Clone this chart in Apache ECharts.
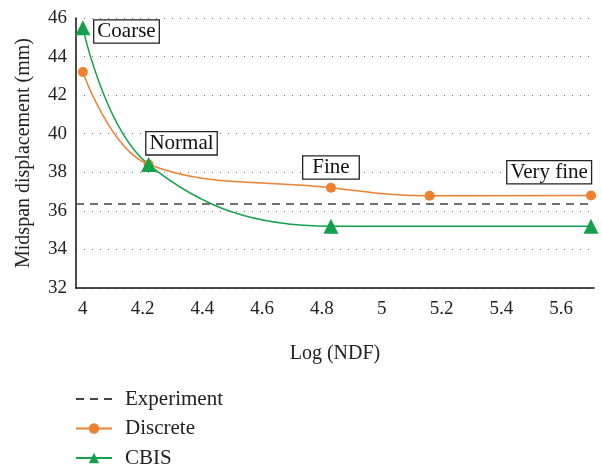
<!DOCTYPE html>
<html><head><meta charset="utf-8">
<script src="https://cdn.jsdelivr.net/npm/echarts@6/dist/echarts.min.js"></script>
<style>html,body{margin:0;padding:0;background:#fff}#c{width:602px;height:469px}</style>
</head><body><div id="c"></div>
<script>
const xTicks = [4, 4.2, 4.4, 4.6, 4.8, 5, 5.2, 5.4, 5.6];
const yTicks = [32, 34, 36, 38, 40, 42, 44, 46];
const discreteX = [4, 4.22, 4.83, 5.16, 5.7];
const discreteY = [43.2, 38.4, 37.2, 36.78, 36.8];
const cbisX = [4, 4.22, 4.83, 5.7];
const cbisY = [45.5, 38.4, 35.2, 35.2];
const experimentX = [3.977, 5.71];
const experimentY = [36.35, 36.35];
const meshLabels = ['Coarse', 'Normal', 'Fine', 'Very fine'];
const meshLabelX = [4.146, 4.33, 4.83, 5.56];
const meshLabelY = [45.3, 39.5, 38.25, 38.0];

const font = 'Liberation Serif';
const zip = (a, b) => a.map((v, i) => [v, b[i]]);
const labelItems = meshLabels.map((n, i) => ({
  value: [meshLabelX[i], meshLabelY[i]],
  label: { padding: n === 'Fine' ? [1, 9, 0, 9] : [1, 3, 0, 3] }
}));
const chart = echarts.init(document.getElementById('c'));
chart.setOption({
  animation: false,
  textStyle: { fontFamily: font },
  grid: { left: 76, right: 8, top: 18, bottom: 181 },
  xAxis: {
    type: 'value', min: 3.977, max: 5.71,
    name: 'Log (NDF)', nameLocation: 'middle', nameGap: 56,
    nameTextStyle: { fontFamily: font, fontSize: 20, color: '#222' },
    axisLine: { lineStyle: { color: '#111', width: 1.5 } },
    axisTick: { show: false },
    splitLine: { show: false },
    axisLabel: { customValues: xTicks, fontFamily: font, fontSize: 19, color: '#222', margin: 12 }
  },
  yAxis: {
    type: 'value', min: 32, max: 46, interval: 2,
    name: 'Midspan displacement (mm)', nameLocation: 'middle', nameGap: 42,
    nameTextStyle: { fontFamily: font, fontSize: 20, color: '#222' },
    axisLine: { show: true, lineStyle: { color: '#111', width: 1.5 } },
    axisTick: { show: false },
    splitLine: { lineStyle: { color: '#777', type: [1, 7], width: 1 } },
    axisLabel: { fontFamily: font, fontSize: 19, color: '#222', margin: 9 }
  },
  legend: {
    orient: 'vertical', left: 75, top: 388, padding: 0, itemGap: 7.5, itemWidth: 36, itemHeight: 13,
    textStyle: { fontFamily: font, fontSize: 21, lineHeight: 22, color: '#222', padding: [0, 0, 0, 8] },
    data: [{ name: 'Experiment', itemStyle: { opacity: 0 } }, 'Discrete', 'CBIS']
  },
  series: [
    { name: 'Experiment', type: 'line', data: zip(experimentX, experimentY), symbol: 'none',
      lineStyle: { color: '#444', type: [8, 6], width: 1.5 }, itemStyle: { color: '#444' } },
    { name: 'Discrete', type: 'line', data: zip(discreteX, discreteY), smooth: 0.4,
      symbol: 'circle', symbolSize: 10,
      lineStyle: { color: '#f0802f', width: 1.5 }, itemStyle: { color: '#f0802f' } },
    { name: 'CBIS', type: 'line', data: zip(cbisX, cbisY), smooth: 0.4,
      symbol: 'triangle', symbolSize: 15,
      lineStyle: { color: '#13a24b', width: 1.5 }, itemStyle: { color: '#13a24b' } },
    { name: 'labels', type: 'scatter', data: labelItems, symbolSize: 0,
      silent: true, z: 10, itemStyle: { opacity: 1 },
      label: { show: true, position: 'inside',
        formatter: p => meshLabels[p.dataIndex],
        fontFamily: font, fontSize: 21, color: '#111', textBorderWidth: 0, opacity: 1,
        backgroundColor: '#fff', borderColor: '#222', borderWidth: 1.3 } }
  ]
});
</script></body></html>
